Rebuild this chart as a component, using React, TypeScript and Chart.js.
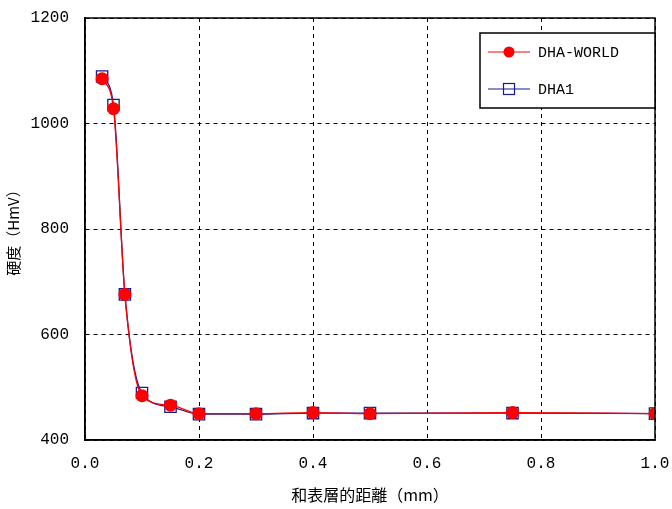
import React, { useEffect, useRef } from "react";
import { Chart, registerables } from "chart.js";

Chart.register(...registerables);

const distances = [0.03, 0.05, 0.07, 0.1, 0.15, 0.2, 0.3, 0.4, 0.5, 0.75, 1.0];
const dhaWorld = [1085, 1028, 676, 484, 466, 450, 450, 452, 450, 452, 450];
const dha1 = [1089, 1035, 676, 489, 463, 449, 449, 451, 451, 451, 450];
const seriesNames = ["DHA-WORLD", "DHA1"];
const yTitle = "硬度（HmV）";
const xTitle = "和表層的距離（mm）";

const MONO = '"Liberation Mono", "DejaVu Sans Mono", monospace';
const CJK = '"Noto Sans CJK JP", "Noto Sans CJK TC", sans-serif';

const frameAndLegend = {
  id: "frameAndLegend",
  afterDraw(chart: any) {
    const { ctx, chartArea } = chart;
    ctx.save();
    ctx.strokeStyle = "#000";
    ctx.lineWidth = 1.5;
    ctx.strokeRect(chartArea.left, chartArea.top, chartArea.right - chartArea.left, chartArea.bottom - chartArea.top);
    // legend box
    const bx = 480, by = 33, bw = 175, bh = 75;
    ctx.fillStyle = "#fff";
    ctx.fillRect(bx, by, bw, bh);
    ctx.lineWidth = 1.5;
    ctx.strokeRect(bx, by, bw, bh);
    const rows = [52, 89];
    chart.data.datasets.forEach((ds: any, i: number) => {
      const y = rows[i];
      ctx.strokeStyle = ds.borderColor;
      ctx.lineWidth = 1.2;
      ctx.beginPath();
      ctx.moveTo(488, y);
      ctx.lineTo(530, y);
      ctx.stroke();
      if (ds.pointStyle === "circle") {
        ctx.fillStyle = ds.pointBackgroundColor;
        ctx.beginPath();
        ctx.arc(509, y, 5.5, 0, Math.PI * 2);
        ctx.fill();
      } else {
        ctx.strokeStyle = ds.pointBorderColor;
        ctx.lineWidth = 1.2;
        ctx.strokeRect(503.5, y - 5.5, 11, 11);
      }
      ctx.fillStyle = "#000";
      ctx.font = "15px " + MONO;
      ctx.textBaseline = "middle";
      ctx.textAlign = "left";
      ctx.fillText(ds.label, 538, y + 1);
    });
    ctx.restore();
  },
};

export default function App() {
  const ref = useRef<HTMLCanvasElement>(null);
  useEffect(() => {
    if (!ref.current) return;
    const chart = new Chart(ref.current, {
      type: "line",
      data: {
        datasets: [
          {
            label: seriesNames[0],
            data: distances.map((x, i) => ({ x, y: dhaWorld[i] })),
            borderColor: "#ff0000",
            borderWidth: 1.3,
            pointStyle: "circle",
            pointRadius: 6.5,
            pointBackgroundColor: "#ff0000",
            pointBorderColor: "#ff0000",
            pointBorderWidth: 0,
            cubicInterpolationMode: "monotone",
            tension: 0.3,
          },
          {
            label: seriesNames[1],
            data: distances.map((x, i) => ({ x, y: dha1[i] })),
            borderColor: "#1a1a8c",
            borderWidth: 1.3,
            pointStyle: "rect",
            pointRadius: 8,
            pointBackgroundColor: "rgba(0,0,0,0)",
            pointBorderColor: "#1a1a8c",
            pointBorderWidth: 1.3,
            cubicInterpolationMode: "monotone",
            tension: 0.3,
          },
        ],
      },
      options: {
        animation: false,
        responsive: false,
        layout: { padding: { left: 0, right: 17, top: 18, bottom: 0 } },
        plugins: { legend: { display: false }, tooltip: { enabled: false } },
        scales: {
          x: {
            type: "linear",
            min: 0,
            max: 1,
            ticks: {
              stepSize: 0.2,
              color: "#000",
              font: { family: MONO, size: 16 },
              padding: 14,
              callback: (v: any) => Number(v).toFixed(1),
            },
            grid: { color: "#000", lineWidth: 1, drawTicks: false },
            border: { color: "#000", width: 1.5, dash: [4, 4] },
            title: {
              display: true,
              text: xTitle,
              color: "#000",
              font: { family: CJK, size: 16 },
              padding: { top: 4 },
            },
            afterFit: (s: any) => {
              s.height = 69;
              s.paddingLeft = 0;
              s.paddingRight = 0;
            },
          },
          y: {
            min: 400,
            max: 1200,
            ticks: {
              stepSize: 200,
              color: "#000",
              font: { family: MONO, size: 16 },
              padding: 16,
              callback: (v: any) => String(v),
            },
            grid: { color: "#000", lineWidth: 1, drawTicks: false },
            border: { color: "#000", width: 1.5, dash: [4, 4] },
            title: {
              display: true,
              text: yTitle,
              color: "#000",
              font: { family: CJK, size: 15 },
              padding: { bottom: 0 },
            },
            afterFit: (s: any) => {
              s.width = 85;
              s.paddingTop = 0;
              s.paddingBottom = 0;
            },
          },
        },
      },
      plugins: [frameAndLegend],
    } as any);
    return () => chart.destroy();
  }, []);
  return (
    <div style={{ position: "fixed", left: 0, top: 0, width: 672, height: 509, background: "#fff" }}>
      <canvas ref={ref} width={672} height={509} style={{ width: 672, height: 509 }} />
    </div>
  );
}
